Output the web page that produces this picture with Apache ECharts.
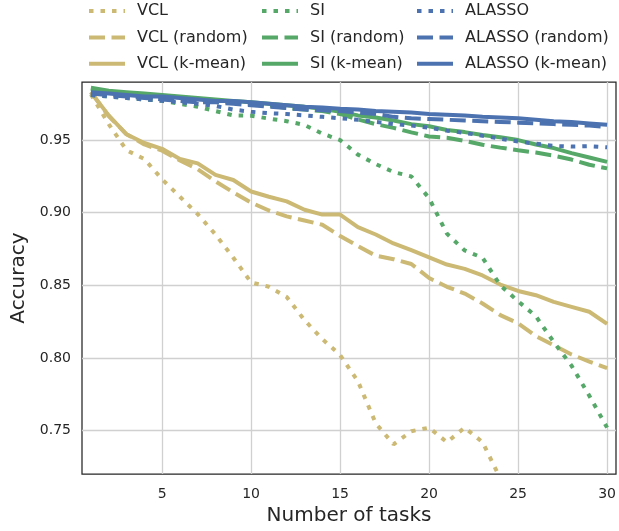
<!DOCTYPE html>
<html><head><meta charset="utf-8">
<script src="https://cdn.jsdelivr.net/npm/echarts@6/dist/echarts.min.js"></script>
<style>html,body{margin:0;padding:0;background:#fff}#c{width:619px;height:531px}</style>
</head><body><div id="c"></div>
<script>
const tasks = [1,2,3,4,5,6,7,8,9,10,11,12,13,14,15,16,17,18,19,20,21,22,23,24,25,26,27,28,29,30];
const xTicks = [5,10,15,20,25,30];
const yTicks = [0.75,0.80,0.85,0.90,0.95];

const vcl = [0.9815,0.961,0.943,0.937,0.923,0.911,0.899,0.885,0.869,0.852,0.849,0.842,0.826,0.813,0.802,0.784,0.755,0.7405,0.7495,0.752,0.742,0.752,0.742,0.717];
const vclRandom = [0.983,0.9665,0.954,0.947,0.9427,0.936,0.930,0.9216,0.914,0.907,0.9015,0.8975,0.8946,0.8917,0.884,0.877,0.8704,0.868,0.8647,0.855,0.849,0.8443,0.8375,0.8295,0.8238,0.815,0.8087,0.8024,0.7975,0.793];
const vclKmean = [0.983,0.967,0.954,0.948,0.944,0.937,0.934,0.926,0.9225,0.9146,0.911,0.9078,0.902,0.8987,0.8987,0.890,0.885,0.8788,0.8742,0.8693,0.8643,0.8613,0.8568,0.8505,0.8461,0.8432,0.8386,0.8352,0.8318,0.8235];

const si = [0.981,0.980,0.979,0.978,0.977,0.975,0.973,0.970,0.967,0.9668,0.9648,0.963,0.9604,0.9545,0.950,0.940,0.9335,0.928,0.925,0.910,0.8856,0.874,0.869,0.850,0.839,0.8287,0.811,0.7947,0.774,0.752];
const siRandom = [0.985,0.983,0.982,0.981,0.980,0.979,0.978,0.977,0.976,0.975,0.974,0.972,0.971,0.970,0.968,0.9642,0.961,0.9584,0.9553,0.9525,0.9516,0.9495,0.9468,0.9448,0.943,0.9414,0.9393,0.9366,0.933,0.9305];
const siKmean = [0.986,0.984,0.983,0.982,0.981,0.980,0.979,0.978,0.977,0.976,0.975,0.974,0.973,0.9715,0.9695,0.967,0.9655,0.9635,0.961,0.9595,0.957,0.9555,0.9535,0.952,0.950,0.947,0.9445,0.941,0.938,0.935];

const alasso = [0.981,0.980,0.979,0.978,0.977,0.976,0.975,0.9735,0.971,0.9695,0.9685,0.968,0.967,0.966,0.965,0.964,0.9625,0.961,0.960,0.9585,0.9565,0.955,0.953,0.951,0.949,0.9475,0.946,0.9455,0.9458,0.945];
const alassoRandom = [0.982,0.981,0.980,0.979,0.978,0.977,0.976,0.976,0.975,0.974,0.973,0.972,0.971,0.9705,0.970,0.969,0.968,0.966,0.965,0.9645,0.964,0.9635,0.963,0.9625,0.962,0.9615,0.961,0.9605,0.960,0.959];
const alassoKmean = [0.983,0.982,0.981,0.980,0.980,0.979,0.978,0.977,0.977,0.976,0.975,0.974,0.973,0.9725,0.9715,0.971,0.970,0.9695,0.969,0.968,0.9675,0.967,0.966,0.9655,0.965,0.964,0.963,0.9625,0.9615,0.9605];

const FONT = 'DejaVu Sans';
const TXT = '#262626';
const C_VCL = '#CCB974', C_SI = '#55A868', C_AL = '#4C72B0';
const DOT = [4.5, 7], DASH = [16, 6.5];

function mk(name, vals, color, type) {
  return {
    name: name, type: 'line',
    data: vals.map((v, i) => [tasks[i], v]),
    symbol: 'none', showSymbol: false,
    lineStyle: { color: color, width: 4, type: type },
    itemStyle: { color: color },
    emphasis: { disabled: true },
    clip: true
  };
}

function lg(names, left) {
  return {
    data: names, orient: 'vertical', left: left, top: 3, padding: 0,
    itemWidth: 36, itemHeight: 14, itemGap: 10.4,
    selectedMode: false,
    itemStyle: { opacity: 0, borderWidth: 0 },
    lineStyle: { width: 4 },
    textStyle: { fontFamily: FONT, fontSize: 16, color: TXT, lineHeight: 14, padding: [0, 0, 0, 7] }
  };
}

const chart = echarts.init(document.getElementById('c'), null, { renderer: 'canvas' });
chart.setOption({
  animation: false,
  backgroundColor: '#ffffff',
  legend: [
    lg(['VCL', 'VCL (random)', 'VCL (k-mean)'], 87),
    lg(['SI', 'SI (random)', 'SI (k-mean)'], 260),
    lg(['ALASSO', 'ALASSO (random)', 'ALASSO (k-mean)'], 415)
  ],
  grid: { left: 82, right: 3, top: 82, bottom: 51, show: true, borderColor: '#262626', borderWidth: 1.25, containLabel: false },
  xAxis: {
    type: 'value', min: 0.5, max: 30.5,
    axisLine: { show: false }, axisTick: { show: false, customValues: xTicks },
    axisLabel: { customValues: xTicks, fontFamily: FONT, fontSize: 14, color: TXT, margin: 13 },
    splitLine: { show: true, lineStyle: { color: '#d0d0d0', width: 1.3 } },
    name: 'Number of tasks', nameLocation: 'middle', nameGap: 30,
    nameTextStyle: { fontFamily: FONT, fontSize: 20, color: TXT }
  },
  yAxis: {
    type: 'value', min: 0.72, max: 0.99,
    axisLine: { show: false }, axisTick: { show: false, customValues: yTicks },
    axisLabel: { customValues: yTicks, fontFamily: FONT, fontSize: 14, color: TXT, margin: 11,
      formatter: v => v.toFixed(2) },
    splitLine: { show: true, lineStyle: { color: '#d0d0d0', width: 1.3 } },
    name: 'Accuracy', nameLocation: 'middle', nameGap: 42,
    nameTextStyle: { fontFamily: FONT, fontSize: 20, color: TXT }
  },
  series: [
    mk('VCL', vcl, C_VCL, DOT),
    mk('VCL (random)', vclRandom, C_VCL, DASH),
    mk('VCL (k-mean)', vclKmean, C_VCL, 'solid'),
    mk('SI', si, C_SI, DOT),
    mk('SI (random)', siRandom, C_SI, DASH),
    mk('SI (k-mean)', siKmean, C_SI, 'solid'),
    mk('ALASSO', alasso, C_AL, DOT),
    mk('ALASSO (random)', alassoRandom, C_AL, DASH),
    mk('ALASSO (k-mean)', alassoKmean, C_AL, 'solid')
  ]
});
</script></body></html>
